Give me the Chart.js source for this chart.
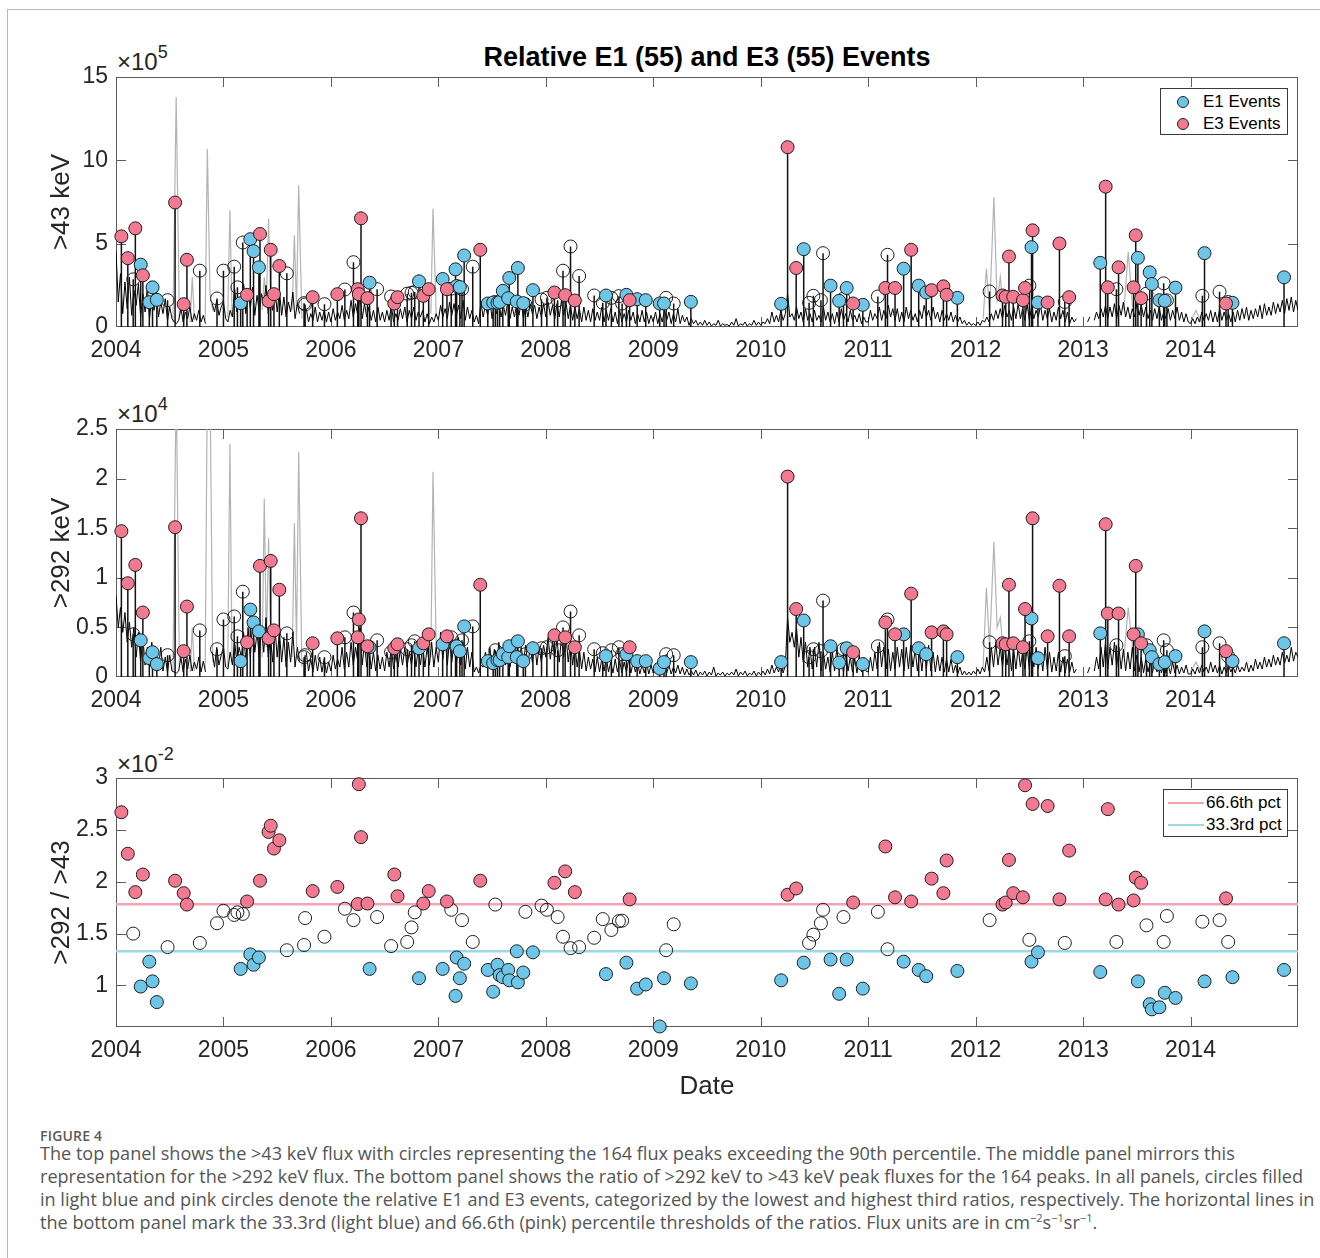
<!DOCTYPE html>
<html><head><meta charset="utf-8">
<script src="https://cdn.jsdelivr.net/npm/chart.js@4.4.0/dist/chart.umd.min.js"></script>
<style>
body{margin:0;background:#fff;}
#page{position:relative;width:1320px;height:1258px;overflow:hidden;font-family:'Liberation Sans',Arial,sans-serif;color:#262626;background:#fff;}
canvas{position:absolute;left:0;}
.frame{position:absolute;left:7px;top:9px;width:1400px;height:1400px;border-left:1px solid #b8b8b8;border-top:1px solid #b8b8b8;}
.title{position:absolute;left:116px;width:1182px;top:40px;text-align:center;font-weight:bold;font-size:27px;line-height:34px;color:#000;}
.mult{position:absolute;left:117px;font-size:24px;line-height:24px;color:#262626;white-space:nowrap;}
.mult sup{font-size:18px;line-height:0;position:relative;top:-3px;vertical-align:super;}
.legend{position:absolute;border:1px solid #3a3a3a;background:#fff;box-sizing:border-box;}
.legend .t{position:absolute;left:42px;font-size:17px;line-height:20px;color:#000;white-space:nowrap;}
.legend .c{position:absolute;width:12px;height:12px;border-radius:50%;border:1px solid #222;box-sizing:border-box;}
.legend .l{position:absolute;left:4px;width:36px;height:2px;}
.caption{position:absolute;left:40px;font-family:'Open Sans',sans-serif;color:#555;white-space:nowrap;}
.fig{font-size:14px;line-height:16px;font-weight:600;color:#5a5a5a;letter-spacing:0.2px;}
.cap{font-size:18.1px;line-height:23px;}
.cap sup{font-size:11px;line-height:0;}
</style></head>
<body><div id="page">
<div class="frame"></div>
<div class="title">Relative E1 (55) and E3 (55) Events</div>
<div class="mult" style="top:50px">&times;10<sup>5</sup></div>
<div class="mult" style="top:402px">&times;10<sup>4</sup></div>
<div class="mult" style="top:752px">&times;10<sup>-2</sup></div>
<canvas id="c1" width="1320" height="335" style="top:40px"></canvas>
<canvas id="c2" width="1320" height="335" style="top:392px"></canvas>
<canvas id="c3" width="1320" height="370" style="top:741px"></canvas>
<div class="legend" style="left:1160px;top:88px;width:128px;height:47px;">
  <div class="c" style="left:16px;top:7px;background:#6DC5E8"></div><div class="t" style="top:3px">E1 Events</div>
  <div class="c" style="left:16px;top:29px;background:#F27990"></div><div class="t" style="top:25px">E3 Events</div>
</div>
<div class="legend" style="left:1163px;top:789px;width:125px;height:48px;">
  <div class="l" style="top:12px;background:#F5A3B3"></div><div class="t" style="top:3px">66.6th pct</div>
  <div class="l" style="top:34px;background:#9ED7E8"></div><div class="t" style="top:25px">33.3rd pct</div>
</div>
<div class="caption fig" style="top:1128px">FIGURE 4</div>
<div class="caption cap" style="top:1142px">The top panel shows the &gt;43 keV flux with circles representing the 164 flux peaks exceeding the 90th percentile. The middle panel mirrors this<br>representation for the &gt;292 keV flux. The bottom panel shows the ratio of &gt;292 keV to &gt;43 keV peak fluxes for the 164 peaks. In all panels, circles filled<br>in light blue and pink circles denote the relative E1 and E3 events, categorized by the lowest and highest third ratios, respectively. The horizontal lines in<br>the bottom panel mark the 33.3rd (light blue) and 66.6th (pink) percentile thresholds of the ratios. Flux units are in cm<sup>&minus;2</sup>s<sup>&minus;1</sup>sr<sup>&minus;1</sup>.</div>
</div>
<script>
// ---------- tick labels ----------
const xTickYears = [2004,2005,2006,2007,2008,2009,2010,2011,2012,2013,2014];
const yTicks43 = [0,5,10,15];
const yTicks292 = [0,0.5,1,1.5,2,2.5];
const yTicksRatio = [1,1.5,2,2.5,3];

// ---------- peaks (date, class 1=E1, 3=E3, 0=other) ----------
const peakDates = [2004.05,2004.11,2004.16,2004.18,2004.23,2004.25,2004.31,2004.34,2004.38,2004.48,2004.55,2004.63,2004.66,2004.78,2004.94,
2005.00,2005.10,2005.13,2005.16,2005.18,2005.22,2005.25,2005.28,2005.33,2005.34,2005.42,2005.44,2005.47,2005.52,2005.59,2005.75,2005.76,2005.83,2005.94,
2006.06,2006.13,2006.21,2006.25,2006.26,2006.28,2006.34,2006.36,2006.43,2006.56,2006.59,2006.62,2006.71,2006.75,2006.78,2006.82,2006.86,2006.91,
2007.04,2007.08,2007.12,2007.16,2007.17,2007.20,2007.22,2007.24,2007.32,2007.39,2007.46,2007.51,2007.53,2007.55,2007.57,2007.60,2007.65,2007.66,2007.73,2007.74,2007.79,2007.81,2007.88,2007.96,
2008.01,2008.08,2008.11,2008.16,2008.18,2008.23,2008.27,2008.31,2008.45,2008.53,2008.56,2008.61,2008.68,2008.71,2008.75,2008.78,2008.85,2008.93,
2009.06,2009.10,2009.12,2009.19,2009.35,
2010.19,2010.25,2010.33,2010.40,2010.45,2010.49,2010.56,2010.58,2010.65,2010.73,2010.77,2010.80,2010.86,2010.95,
2011.09,2011.16,2011.18,2011.25,2011.33,2011.40,2011.47,2011.54,2011.59,2011.70,2011.73,2011.83,
2012.13,2012.25,2012.28,2012.31,2012.35,2012.44,2012.46,2012.50,2012.52,2012.53,2012.58,2012.67,2012.78,2012.83,2012.87,
2013.16,2013.21,2013.23,2013.31,2013.33,2013.47,2013.49,2013.51,2013.54,2013.59,2013.62,2013.64,2013.71,2013.75,2013.76,2013.78,2013.86,
2014.11,2014.13,2014.27,2014.33,2014.35,2014.39,2014.87];
const peakClass = [3,3,0,3,1,3,1,1,1,0,3,3,3,0,0,
0,0,0,1,0,3,1,1,1,3,3,3,3,3,0,0,0,3,0,
3,0,0,3,3,3,3,1,0,0,3,3,0,0,0,1,3,3,
1,3,0,1,1,1,0,1,0,3,1,1,0,1,1,1,1,1,1,1,1,0,1,0,
0,3,0,0,3,0,3,0,0,0,1,0,0,0,1,3,1,1,
1,1,0,0,1,
1,3,3,1,0,0,0,0,1,1,0,1,3,1,
0,3,0,3,1,3,1,1,3,3,3,1,
0,3,3,3,3,3,3,0,1,3,1,3,3,0,3,
1,3,3,0,3,3,3,1,3,0,1,1,1,0,1,0,1,
0,1,0,3,0,1,1];
const flux43 = [5.44,4.13,2.86,5.92,3.74,3.10,1.49,2.38,1.63,1.61,7.47,1.37,4.03,3.38,1.71,
3.38,3.62,2.38,1.43,5.07,1.93,5.27,4.55,3.58,5.58,1.55,4.63,1.97,3.66,3.22,1.43,1.35,1.79,1.37,
1.97,2.25,3.89,2.27,1.97,6.52,1.73,2.66,2.27,1.83,1.41,1.79,2.00,2.05,2.10,2.74,1.87,2.27,
2.88,2.27,2.30,3.46,2.46,2.40,2.27,4.29,3.62,4.63,1.41,1.47,1.50,1.45,1.50,2.17,1.73,2.94,1.53,3.54,1.43,1.37,2.21,1.65,
1.75,2.07,1.60,3.38,1.91,4.83,1.59,3.06,1.89,1.45,1.89,1.75,1.85,1.41,1.93,1.61,1.67,1.61,
1.41,1.41,1.75,1.41,1.51,
1.39,10.79,3.54,4.67,1.45,1.87,1.61,4.43,2.48,1.57,1.70,2.34,1.41,1.33,
1.83,2.34,4.33,2.34,3.50,4.63,2.48,2.07,2.21,2.44,1.93,1.75,
2.13,1.89,1.81,4.23,1.81,1.61,2.34,2.48,4.79,5.80,1.47,1.47,5.01,1.50,1.79,
3.85,8.42,2.38,2.27,3.58,2.38,5.50,4.15,1.73,2.00,3.28,2.58,1.61,2.62,1.57,1.60,2.36,
1.87,4.43,2.11,1.41,1.50,1.45,2.98];
const flux292 = [1.47,0.945,0.43,1.13,0.37,0.65,0.19,0.25,0.13,0.22,1.51,0.26,0.71,0.47,0.28,
0.58,0.61,0.41,0.16,0.86,0.35,0.68,0.55,0.46,1.12,0.39,1.17,0.47,0.88,0.44,0.20,0.22,0.34,0.20,
0.39,0.40,0.65,0.40,0.58,1.60,0.31,0.30,0.37,0.25,0.29,0.33,0.28,0.32,0.36,0.29,0.34,0.43,
0.33,0.41,0.40,0.31,0.31,0.26,0.37,0.51,0.51,0.93,0.16,0.14,0.27,0.17,0.17,0.23,0.20,0.31,0.20,0.36,0.16,0.23,0.29,0.29,
0.30,0.42,0.27,0.50,0.40,0.66,0.30,0.42,0.28,0.24,0.21,0.27,0.30,0.23,0.23,0.30,0.16,0.16,
0.085,0.15,0.23,0.22,0.15,
0.15,2.02,0.685,0.57,0.20,0.28,0.26,0.77,0.31,0.145,0.28,0.29,0.25,0.13,
0.31,0.55,0.58,0.43,0.43,0.84,0.29,0.23,0.45,0.46,0.43,0.20,
0.35,0.34,0.33,0.93,0.34,0.30,0.685,0.36,0.59,1.60,0.19,0.41,0.92,0.21,0.41,
0.44,1.54,0.64,0.32,0.64,0.43,1.12,0.43,0.34,0.32,0.27,0.20,0.13,0.37,0.15,0.27,0.21,
0.30,0.46,0.34,0.26,0.21,0.16,0.34];
const ratio = [2.67,2.27,1.50,1.90,0.99,2.07,1.23,1.04,0.84,1.37,2.01,1.89,1.78,1.41,1.60,
1.72,1.68,1.705,1.16,1.69,1.81,1.30,1.20,1.27,2.01,2.48,2.54,2.32,2.40,1.34,1.39,1.65,1.91,1.47,
1.95,1.74,1.63,1.785,2.94,2.43,1.79,1.16,1.66,1.38,2.07,1.86,1.42,1.56,1.705,1.07,1.79,1.91,
1.16,1.81,1.73,0.90,1.27,1.07,1.63,1.21,1.42,2.01,1.15,0.94,1.78,1.20,1.10,1.08,1.15,1.05,1.33,1.03,1.125,1.71,1.32,1.77,
1.73,1.99,1.66,1.47,2.10,1.36,1.90,1.37,1.46,1.64,1.11,1.535,1.62,1.625,1.22,1.83,0.97,1.01,
0.605,1.07,1.34,1.59,1.02,
1.05,1.875,1.935,1.22,1.41,1.49,1.60,1.73,1.25,0.92,1.66,1.25,1.80,0.97,
1.71,2.34,1.35,1.85,1.23,1.81,1.15,1.09,2.03,1.89,2.205,1.14,
1.63,1.78,1.80,2.21,1.89,1.85,2.93,1.44,1.23,2.75,1.32,2.73,1.83,1.41,2.30,
1.13,1.83,2.70,1.42,1.78,1.82,2.04,1.04,1.99,1.58,0.82,0.77,0.79,1.42,0.93,1.67,0.88,
1.615,1.04,1.63,1.84,1.42,1.08,1.15];
const pct666 = 1.782;
const pct333 = 1.33;

// ---------- background flux, 48 samples per year from 2004.0 ----------
const bgStart = 2004, bgPerYear = 48;
const bg43 = [
4.6,1.5,3.2,0.8,2.7,1.1,3.0,0.7,2.2,1.3,2.6,0.6, 2.0,0.9,2.4,0.5,1.8,1.0,2.1,0.6,1.5,0.8,1.7,0.4,
1.2,0.5,0.3,0.2,0.4,1.1,0.3,0.9,0.5,1.2,0.3,0.8, 0.4,1.0,0.3,0.7,0.2,null,null,1.4,0.9,1.6,0.7,1.2,
1.5,0.5,0.3,1.0,0.6,2.3,0.9,1.8,1.2,2.6,0.8,2.2, 1.1,2.4,0.7,1.9,0.9,2.0,1.3,2.5,0.8,1.7,1.0,2.3,
0.9,2.2,0.7,1.8,0.6,1.5,0.9,2.1,0.5,1.4,0.8,null, null,1.1,0.3,0.8,0.4,1.2,0.3,0.9,0.4,1.0,0.3,0.9,
0.3,1.1,0.4,0.9,0.5,1.3,0.4,1.0,0.5,1.6,0.6,1.4, 0.7,2.0,0.5,1.4,0.6,1.2,0.4,1.0,0.3,1.2,0.4,0.9,
0.3,1.0,0.4,1.3,0.3,0.8,0.4,1.1,0.5,1.2,0.3,1.0, 0.5,1.2,0.4,0.9,0.6,1.0,0.3,0.8,0.2,0.6,0.3,0.8,
0.4,1.3,0.6,1.1,0.5,1.5,0.7,1.4,0.6,1.3,0.5,1.6, 0.4,1.2,0.5,1.0,0.3,0.7,0.2,1.5,0.6,1.3,0.7,1.6,
0.5,1.4,0.8,1.5,0.6,1.3,0.7,1.5,0.5,1.2,0.6,1.4, 0.7,1.5,0.5,1.3,0.6,1.4,0.8,1.3,0.5,1.2,0.6,1.4,
0.6,1.5,0.7,1.3,0.5,1.4,0.6,1.6,0.7,1.5,0.5,1.3, 0.4,1.2,0.5,1.1,0.3,1.2,0.4,1.0,0.3,1.1,0.4,0.9,
0.4,1.2,0.3,1.0,0.4,1.1,0.3,0.9,0.2,1.0,0.3,0.8, 0.3,1.0,0.4,0.9,0.2,0.8,0.3,1.0,0.3,0.9,0.2,0.7,
0.3,0.9,0.2,0.8,0.3,1.0,0.4,0.9,0.2,0.8,0.3,1.1, 0.2,0.7,0.3,0.6,0.1,0.5,0.2,0.4,0.1,0.3,0.1,0.4,
0.1,0.3,0.05,0.2,0.1,0.4,0.05,0.2,0.1,0.15,0.05,0.3, 0.1,0.5,0.05,0.2,0.1,0.3,0.05,0.2,0.1,0.4,0.1,0.3,
0.1,0.3,0.2,0.5,0.2,0.9,0.3,0.7,0.3,1.0,0.4,0.8, 2.0,0.6,0.8,0.4,1.2,0.5,0.9,0.3,1.1,0.4,0.8,0.3,
1.0,0.4,0.7,0.3,1.2,0.4,0.9,0.3,0.8,0.2,0.9,0.3, 1.1,0.4,0.8,0.3,1.0,0.4,0.7,0.3,0.8,0.2,0.6,0.3,
0.3,1.0,0.4,0.8,0.5,1.2,0.4,1.0,0.5,1.3,0.6,1.1, 0.4,1.1,0.3,0.9,0.3,1.2,0.5,1.0,0.4,0.8,0.3,1.0,
0.5,1.3,0.6,1.0,0.4,1.2,0.5,0.9,0.3,1.0,0.4,0.8, 0.4,0.9,0.3,0.7,0.3,0.6,0.2,0.4,0.1,0.3,0.1,0.2,
0.1,0.3,0.1,0.4,0.3,0.6,0.3,0.8,0.4,1.0,0.5,1.1, 0.5,1.3,0.6,1.0,0.4,1.2,0.5,1.4,0.5,1.1,0.4,1.4,
0.4,1.2,0.5,1.0,0.6,1.3,0.4,1.0,0.5,1.1,0.3,0.9, 0.4,1.2,0.5,1.0,0.3,0.9,0.2,0.6,0.3,0.5,null,null,
null,null,0.3,0.6,null,0.4,0.9,0.5,1.1,0.6,1.3,0.5, 1.2,0.6,1.4,0.5,1.3,0.7,1.5,0.6,1.2,0.5,1.1,0.6,
1.4,0.7,1.3,0.6,1.2,0.5,1.0,0.4,1.1,0.5,1.2,0.4, 0.9,0.5,1.1,0.4,1.0,0.5,1.2,0.4,0.9,0.3,0.8,0.3,
0.2,0.5,0.2,0.6,0.3,0.9,0.4,0.8,0.4,1.0,0.3,0.9, 0.3,1.1,0.4,0.9,0.4,0.8,0.3,0.9,0.3,1.0,0.4,1.1,
0.5,1.2,0.4,1.0,0.5,1.1,0.6,1.3,0.5,1.4,0.7,1.2, 0.7,1.5,0.8,1.4,0.9,1.6,0.8,1.7,1.0,1.8,0.9,1.6,
1.0];
const bg292 = [
0.82,0.5,0.7,0.45,0.65,0.35,0.55,0.3,0.5,0.2,0.45,0.15, 0.4,0.12,0.3,0.1,0.35,0.08,0.25,0.1,0.3,0.06,0.2,0.05,
0.22,0.06,0.05,0.04,0.06,0.2,0.05,0.18,0.08,0.22,0.06,0.15, 0.08,0.2,0.05,0.16,0.05,null,null,0.25,0.1,0.3,0.12,0.22,
0.3,0.1,0.08,0.25,0.12,0.35,0.15,0.3,0.2,0.45,0.15,0.5, 0.2,0.55,0.25,0.45,0.2,0.5,0.25,0.6,0.2,0.4,0.15,0.5,
0.2,0.45,0.15,0.4,0.1,0.35,0.15,0.45,0.1,0.3,0.15,null, null,0.25,0.06,0.18,0.05,0.22,0.06,0.2,0.05,0.18,0.04,0.15,
0.06,0.22,0.08,0.18,0.1,0.3,0.08,0.25,0.1,0.35,0.12,0.3, 0.15,0.5,0.12,0.35,0.1,0.3,0.08,0.25,0.06,0.22,0.08,0.2,
0.06,0.25,0.1,0.3,0.08,0.22,0.1,0.28,0.12,0.3,0.1,0.25, 0.12,0.3,0.1,0.28,0.12,0.32,0.1,0.3,0.12,0.35,0.1,0.3,
0.15,0.45,0.18,0.4,0.12,0.38,0.15,0.35,0.1,0.4,0.12,0.35, 0.08,0.3,0.1,0.25,0.05,0.1,0.04,0.12,0.1,0.25,0.12,0.3,
0.1,0.28,0.12,0.35,0.15,0.3,0.12,0.32,0.1,0.28,0.15,0.35, 0.12,0.3,0.15,0.32,0.12,0.3,0.15,0.35,0.12,0.3,0.15,0.32,
0.2,0.4,0.18,0.35,0.2,0.38,0.15,0.4,0.2,0.42,0.15,0.35, 0.12,0.32,0.1,0.28,0.08,0.25,0.06,0.2,0.08,0.18,0.05,0.2,
0.05,0.18,0.06,0.2,0.05,0.15,0.04,0.18,0.05,0.16,0.04,0.15, 0.05,0.18,0.04,0.15,0.05,0.14,0.03,0.12,0.04,0.15,0.03,0.12,
0.04,0.14,0.03,0.12,0.05,0.15,0.04,0.12,0.03,0.1,0.04,0.12, 0.03,0.1,0.02,0.08,0.02,0.06,0.02,0.07,0.01,0.05,0.02,0.06,
0.01,0.05,0.02,0.1,0.01,0.04,0.02,0.05,0.01,0.04,0.02,0.05, 0.02,0.08,0.01,0.05,0.02,0.06,0.01,0.04,0.02,0.06,0.01,0.05,
0.02,0.06,0.02,0.08,0.03,0.12,0.04,0.1,0.05,0.15,0.04,0.12, 0.6,0.35,0.45,0.3,0.5,0.2,0.4,0.15,0.35,0.1,0.3,0.08,
0.3,0.1,0.35,0.06,0.25,0.08,0.2,0.05,0.25,0.06,0.3,0.08, 0.2,0.05,0.25,0.06,0.2,0.05,0.18,0.04,0.22,0.05,0.2,0.06,
0.05,0.2,0.06,0.25,0.08,0.35,0.1,0.3,0.08,0.28,0.06,0.25, 0.08,0.3,0.1,0.28,0.06,0.3,0.08,0.32,0.1,0.28,0.06,0.25,
0.06,0.3,0.08,0.32,0.06,0.25,0.05,0.22,0.06,0.2,0.05,0.18, 0.05,0.18,0.04,0.12,0.03,0.1,0.02,0.06,0.02,0.05,0.02,0.06,
0.03,0.08,0.03,0.1,0.05,0.2,0.06,0.3,0.1,0.35,0.12,0.3, 0.1,0.32,0.12,0.3,0.06,0.28,0.08,0.3,0.1,0.25,0.08,0.3,
0.08,0.35,0.1,0.3,0.08,0.25,0.06,0.3,0.08,0.25,0.05,0.2, 0.06,0.25,0.05,0.2,0.04,0.18,0.05,0.15,0.04,0.08,null,null,
null,null,0.04,0.1,null,0.06,0.2,0.08,0.3,0.1,0.35,0.08, 0.3,0.12,0.35,0.1,0.3,0.08,0.28,0.06,0.25,0.08,0.3,0.06,
0.22,0.05,0.2,0.04,0.18,0.05,0.15,0.04,0.18,0.05,0.2,0.04, 0.15,0.04,0.12,0.03,0.15,0.04,0.12,0.03,0.1,0.04,0.12,0.03,
0.03,0.08,0.03,0.1,0.04,0.12,0.05,0.1,0.04,0.15,0.05,0.12, 0.04,0.12,0.03,0.1,0.04,0.12,0.05,0.1,0.04,0.12,0.05,0.1,
0.06,0.15,0.05,0.12,0.06,0.18,0.08,0.15,0.08,0.2,0.1,0.18, 0.1,0.22,0.12,0.2,0.12,0.25,0.14,0.22,0.15,0.3,0.16,0.25,
0.2];

// ---------- gray (unfiltered) spikes ----------
const grayDates = [2004.53,2004.56,2004.59,null, 2004.69,2004.71,2004.73,null, 2004.83,2004.85,2004.875,2004.90,null,
 2005.04,2005.06,2005.08,null, 2005.36,2005.38,2005.40,2005.42,2005.44,null, 2005.64,2005.66,2005.68,2005.70,2005.73,null,
 2006.93,2006.95,2006.98,null, 2012.07,2012.10,2012.13,2012.17,2012.20,2012.23,2012.26,null, 2013.38,2013.42,2013.46,null,
 2014.00,2014.05,2014.10];
const gray43 = [0.3,13.8,0.5,null, 0.3,3.0,0.4,null, 0.4,10.7,2.0,1.0,null,
 0.6,7.0,0.8,null, 1.0,3.0,1.5,6.5,1.0,null, 1.0,5.5,1.0,8.5,0.5,null,
 0.8,7.1,0.8,null, 0.5,3.5,1.0,7.8,1.5,3.0,0.8,null, 1.0,4.5,1.2,null,
 0.3,1.0,0.3];
const gray292 = [0.06,3.0,0.1,null, 0.05,0.5,0.06,null, 0.08,3.0,3.0,0.15,null,
 0.1,2.35,0.15,null, 0.2,1.8,0.3,1.4,0.3,null, 0.2,1.55,0.3,2.27,0.1,null,
 0.2,2.07,0.3,null, 0.1,0.9,0.3,1.36,0.5,0.6,0.2,null, 0.2,0.7,0.3,null,
 0.05,0.15,0.05];

// ---------- styles ----------
const PINK = '#F27990', BLUE = '#6DC5E8', EDGE = '#1e1e1e';
const TICKFONT = {family:"'Liberation Sans', Arial, sans-serif", size:23};
const TITLEFONT = {family:"'Liberation Sans', Arial, sans-serif", size:26};

function markerPts(vals, cls){
  const out=[]; peakDates.forEach((d,i)=>{ if(peakClass[i]===cls) out.push({x:d,y:vals[i]}); }); return out;
}
function stemPts(vals){
  const out=[]; peakDates.forEach((d,i)=>{ out.push({x:d,y:0},{x:d,y:vals[i]},{x:d,y:null}); }); return out;
}
function bgPts(vals){ return vals.map((v,i)=>({x:bgStart+i/bgPerYear,y:v})); }
function grayPts(vals){ return grayDates.map((d,i)=>({x:d===null?(grayDates[i-1]+0.001):d,y:vals[i]})); }

function markerSets(vals){
  return [
    {type:'scatter',data:markerPts(vals,3),backgroundColor:PINK,borderColor:EDGE,borderWidth:1,pointRadius:6.5,clip:false},
    {type:'scatter',data:markerPts(vals,1),backgroundColor:BLUE,borderColor:EDGE,borderWidth:1,pointRadius:6.5,clip:false},
    {type:'scatter',data:markerPts(vals,0),backgroundColor:'rgba(0,0,0,0)',borderColor:EDGE,borderWidth:1,pointRadius:6.5,clip:false}
  ];
}
function lineSet(data,color,w){
  return {type:'line',data:data,borderColor:color,borderWidth:w,pointRadius:0,tension:0,spanGaps:false,fill:false};
}

const boxPlugin = {
  id:'box',
  beforeDatasetsDraw(chart){
    const {ctx, chartArea:a, scales} = chart; const x=scales.x, y=scales.y;
    ctx.save(); ctx.strokeStyle='#5c5c5c'; ctx.lineWidth=1; ctx.beginPath();
    const L=10;
    x.ticks.forEach(t=>{ const p=Math.round(x.getPixelForValue(t.value))+0.5; if(p<a.left+2||p>a.right-2) return;
      ctx.moveTo(p,a.bottom); ctx.lineTo(p,a.bottom-L); ctx.moveTo(p,a.top); ctx.lineTo(p,a.top+L); });
    y.ticks.forEach(t=>{ const p=Math.round(y.getPixelForValue(t.value))+0.5; if(p<a.top+2||p>a.bottom-2) return;
      ctx.moveTo(a.left,p); ctx.lineTo(a.left+L,p); ctx.moveTo(a.right,p); ctx.lineTo(a.right-L,p); });
    ctx.stroke();
    ctx.strokeRect(Math.round(a.left)+0.5, Math.round(a.top)+0.5, Math.round(a.right-a.left)-1, Math.round(a.bottom-a.top)-1);
    ctx.restore();
  }
};

function makeChart(id, datasets, yMin, yMax, yTicks, yTitle, xHeight, xTitle){
  return new Chart(document.getElementById(id), {
    type:'scatter',
    data:{datasets:datasets},
    options:{
      responsive:false, animation:false, devicePixelRatio:1,
      layout:{padding:{left:0,right:22,top:37,bottom:0}},
      plugins:{legend:{display:false},tooltip:{enabled:false}},
      scales:{
        x:{type:'linear',min:2004,max:2015,
          afterBuildTicks:s=>{s.ticks=xTickYears.map(v=>({value:v}));},
          afterFit:s=>{s.height=xHeight;},
          grid:{display:false,drawTicks:false},border:{display:false},
          ticks:{font:TICKFONT,color:'#262626',padding:10,maxRotation:0,autoSkip:false,callback:v=>String(v)},
          title:xTitle?{display:true,text:xTitle,font:TITLEFONT,color:'#262626',padding:{top:0,bottom:9}}:{display:false}
        },
        y:{type:'linear',min:yMin,max:yMax,
          afterBuildTicks:s=>{s.ticks=yTicks.map(v=>({value:v}));},
          afterFit:s=>{s.width=116;},
          grid:{display:false,drawTicks:false},border:{display:false},
          ticks:{font:TICKFONT,color:'#262626',padding:8,callback:v=>String(v)},
          title:{display:true,text:yTitle,font:TITLEFONT,color:'#262626',padding:{top:46,bottom:0}}
        }
      }
    },
    plugins:[boxPlugin]
  });
}

makeChart('c1', [
  ...markerSets(flux43),
  lineSet(stemPts(flux43),'#111',1.5),
  lineSet(bgPts(bg43),'#000',1),
  lineSet(grayPts(gray43),'#b3b3b3',1.2)
], 0, 15, yTicks43, '>43 keV', 48, null);

makeChart('c2', [
  ...markerSets(flux292),
  lineSet(stemPts(flux292),'#111',1.5),
  lineSet(bgPts(bg292),'#000',1),
  lineSet(grayPts(gray292),'#b3b3b3',1.2)
], 0, 2.5, yTicks292, '>292 keV', 50, null);

makeChart('c3', [
  ...markerSets(ratio),
  lineSet([{x:2004,y:pct666},{x:2015,y:pct666}],'#F5A3B3',2.5),
  lineSet([{x:2004,y:pct333},{x:2015,y:pct333}],'#9ED7E8',2.5)
], 0.6, 3, yTicksRatio, '>292 / >43', 84, 'Date');
</script>
</body></html>
